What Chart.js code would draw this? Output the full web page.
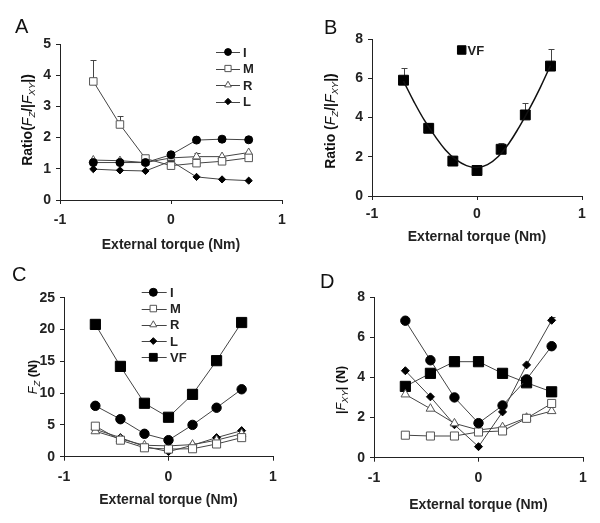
<!DOCTYPE html>
<html>
<head>
<meta charset="utf-8">
<script src="https://cdn.jsdelivr.net/npm/chart.js"></script>
<style>
body { margin: 0; background: #fff; }
#page { position: relative; width: 600px; height: 523px; overflow: hidden; font-family: "Liberation Sans", Arial, sans-serif; color: #111; }
canvas { position: absolute; }
.letter { position: absolute; font-size: 20px; line-height: 20px; }
.ytitle { position: absolute; font-size: 14px; font-weight: bold; white-space: nowrap; transform: translate(-50%, -50%) rotate(-90deg); }
.ytitle.small { font-size: 12.5px; }
.ytitle i { font-weight: normal; }
.ytitle sub { font-size: 9.5px; vertical-align: -3px; font-style: italic; font-weight: normal; }
</style>
</head>
<body>
<div id="page">
  <canvas id="chartA" width="300" height="260" style="left:0;top:0"></canvas>
  <canvas id="chartB" width="300" height="260" style="left:300px;top:0"></canvas>
  <canvas id="chartC" width="300" height="263" style="left:0;top:260px"></canvas>
  <canvas id="chartD" width="300" height="263" style="left:300px;top:260px"></canvas>

  <div class="letter" style="left:15px;top:16px">A</div>
  <div class="letter" style="left:324px;top:17px">B</div>
  <div class="letter" style="left:12px;top:264px">C</div>
  <div class="letter" style="left:320px;top:271px">D</div>

  <div class="ytitle" style="left:28px;top:120px">Ratio(<i>F</i><sub>Z</sub>/|<i>F</i><sub>XY</sub>|)</div>
  <div class="ytitle" style="left:331px;top:121px">Ratio (<i>F</i><sub>Z</sub>/|<i>F</i><sub>XY</sub>|)</div>
  <div class="ytitle small" style="left:34px;top:377px"><i>F</i><sub>Z</sub> (N)</div>
  <div class="ytitle small" style="left:342px;top:390px">|<i>F</i><sub>XY</sub>| (N)</div>
</div>
<script>
// external torque levels (Nm)
const torque = [-0.7, -0.46, -0.23, 0, 0.23, 0.46, 0.7];

// A - ratio Fz/|Fxy| per finger
const ratioI = [1.2, 1.2, 1.2, 1.45, 1.92, 1.95, 1.93];
const ratioM = [3.8, 2.42, 1.33, 1.1, 1.18, 1.24, 1.35];
const ratioR = [1.28, 1.26, 1.2, 1.35, 1.39, 1.39, 1.52];
const ratioL = [0.99, 0.95, 0.93, 1.25, 0.74, 0.66, 0.62];
const ratioErrM = [0.7, 0.28, 0, 0, 0, 0, 0];
const ratioErrR = [0, 0, 0, 0, 0.12, 0, 0];

// B - ratio for virtual finger, and the fitted curve
const ratioVF = [5.9, 3.45, 1.78, 1.3, 2.38, 4.13, 6.62];
const ratioErrVF = [0.6, 0.25, 0.1, 0.08, 0.3, 0.62, 0.88];
const fitX = [-0.7, -0.6, -0.5, -0.4, -0.3, -0.2, -0.1, 0, 0.1, 0.2, 0.3, 0.4, 0.5, 0.6, 0.7];
const fitY = [5.85, 4.8, 3.85, 3.05, 2.35, 1.85, 1.55, 1.45, 1.6, 2.0, 2.65, 3.5, 4.45, 5.5, 6.65];

// C - normal force Fz (N)
const fzI = [8.0, 5.9, 3.6, 2.6, 5.0, 7.7, 10.6];
const fzM = [4.8, 2.6, 1.4, 1.2, 1.25, 2.0, 3.0];
const fzR = [4.0, 2.8, 1.8, 1.7, 1.9, 2.6, 3.6];
const fzL = [4.3, 3.0, 1.6, 0.8, 1.8, 3.0, 4.1];
const fzVF = [20.8, 14.2, 8.4, 6.2, 9.8, 15.1, 21.1];

// D - tangential force |Fxy| (N)
const fxyI = [6.82, 4.85, 3.0, 1.72, 2.6, 3.9, 5.55];
const fxyM = [1.12, 1.08, 1.08, 1.28, 1.33, 1.96, 2.7];
const fxyR = [3.15, 2.44, 1.71, 1.38, 1.52, 1.99, 2.32];
const fxyL = [4.33, 3.03, 1.64, 0.55, 2.28, 4.62, 6.84];
const fxyVF = [3.55, 4.2, 4.78, 4.78, 4.2, 3.73, 3.28];
const fxyErrL = [0, 0, 0, 0, 0, 0, 0.15];

const xTicks = [-1, 0, 1];

const FONT = '"Liberation Sans", Arial, sans-serif';
const INK = '#222';

const markers = {
    I: { pointStyle: 'circle', fill: '#000', stroke: '#000' },
    M: { pointStyle: 'rect', fill: '#fff', stroke: '#555' },
    R: { pointStyle: 'triangle', fill: '#fff', stroke: '#555' },
    L: { pointStyle: 'rectRot', fill: '#000', stroke: '#000' },
    VF: { pointStyle: 'rect', fill: '#000', stroke: '#000' }
};

function series(key, ys, r, extra) {
    const m = markers[key];
    return Object.assign({
        label: key,
        data: torque.map((x, i) => ({ x: x, y: ys[i] })),
        showLine: true,
        borderColor: '#444',
        borderWidth: 1,
        pointStyle: m.pointStyle,
        pointRadius: r,
        pointHoverRadius: r,
        pointBackgroundColor: m.fill,
        pointBorderColor: m.stroke,
        pointBorderWidth: 1
    }, extra || {});
}

// draw a marker the same way as chart.js does
function drawMarker(ctx, style, x, y, r, fill, stroke) {
    ctx.save();
    ctx.fillStyle = fill;
    ctx.strokeStyle = stroke;
    ctx.lineWidth = 1;
    ctx.beginPath();
    if (style === 'circle') {
        ctx.arc(x, y, r, 0, Math.PI * 2);
    } else if (style === 'rect') {
        const s = r * Math.SQRT1_2;
        ctx.rect(x - s, y - s, 2 * s, 2 * s);
    } else if (style === 'triangle') {
        for (let k = 0; k < 3; k++) {
            const a = k * 2 * Math.PI / 3;
            const px = x + Math.sin(a) * r, py = y - Math.cos(a) * r;
            if (k === 0) ctx.moveTo(px, py); else ctx.lineTo(px, py);
        }
        ctx.closePath();
    } else if (style === 'rectRot') {
        ctx.moveTo(x, y - r); ctx.lineTo(x + r, y); ctx.lineTo(x, y + r); ctx.lineTo(x - r, y);
        ctx.closePath();
    }
    ctx.fill();
    ctx.stroke();
    ctx.restore();
}

// upward error bars
const errorBars = {
    id: 'errorBars',
    beforeDatasetsDraw(chart) {
        const ctx = chart.ctx;
        const xs = chart.scales.x, ys = chart.scales.y;
        chart.data.datasets.forEach(ds => {
            if (!ds.errUp) return;
            ctx.save();
            ctx.strokeStyle = '#444';
            ctx.lineWidth = 1;
            ds.data.forEach((p, j) => {
                const e = ds.errUp[j];
                if (!e) return;
                const x = Math.round(xs.getPixelForValue(p.x)) + 0.5;
                const y0 = ys.getPixelForValue(p.y);
                const y1 = Math.round(ys.getPixelForValue(p.y + e)) + 0.5;
                ctx.beginPath();
                ctx.moveTo(x, y0); ctx.lineTo(x, y1);
                ctx.moveTo(x - 3, y1); ctx.lineTo(x + 3, y1);
                ctx.stroke();
            });
            ctx.restore();
        });
    }
};

// legend with a short line through the marker
const lineLegend = {
    id: 'lineLegend',
    afterDraw(chart, args, opts) {
        if (!opts.items) return;
        const ctx = chart.ctx;
        opts.items.forEach((it, k) => {
            const y = opts.y + k * opts.dy;
            const m = markers[it.key];
            if (opts.line) {
                ctx.save();
                ctx.strokeStyle = '#444';
                ctx.lineWidth = 1;
                ctx.beginPath();
                ctx.moveTo(opts.line[0], Math.round(y) + 0.5);
                ctx.lineTo(opts.line[1], Math.round(y) + 0.5);
                ctx.stroke();
                ctx.restore();
            }
            drawMarker(ctx, m.pointStyle, opts.x, y, it.r, m.fill, m.stroke);
            ctx.save();
            ctx.fillStyle = INK;
            ctx.font = 'bold 13px ' + FONT;
            ctx.textBaseline = 'middle';
            ctx.fillText(it.key, opts.textX, y + 1);
            ctx.restore();
        });
    }
};

function makePanel(id, box, yMax, yStep, datasets, legend) {
    const H = box.height;
    const yWidth = 40;
    return new Chart(document.getElementById(id), {
        type: 'scatter',
        data: { datasets: datasets },
        plugins: [errorBars, lineLegend],
        options: {
            responsive: false,
            animation: false,
            events: [],
            layout: {
                padding: { left: box.left - yWidth, top: box.top, right: box.width - box.right, bottom: 0 }
            },
            plugins: {
                legend: { display: false },
                tooltip: { enabled: false },
                lineLegend: legend || {}
            },
            scales: {
                x: {
                    type: 'linear',
                    min: -1, max: 1,
                    afterFit: s => { s.height = H - box.bottom; },
                    afterBuildTicks: s => { s.ticks = xTicks.map(v => ({ value: v })); },
                    grid: { drawOnChartArea: false, drawTicks: true, tickLength: 4, color: INK },
                    border: { display: true, color: INK, width: 1 },
                    ticks: { color: INK, font: { family: FONT, size: 14, weight: 'bold' }, padding: box.tickPad, maxRotation: 0 },
                    title: {
                        display: true,
                        text: 'External torque (Nm)',
                        color: INK,
                        font: { family: FONT, size: 14, weight: 'bold' },
                        padding: { top: 0, bottom: H - box.titleY - 8.4 }
                    }
                },
                y: {
                    min: 0, max: yMax,
                    afterFit: s => { s.width = yWidth; },
                    grid: { drawOnChartArea: false, drawTicks: true, tickLength: 4, color: INK },
                    border: { display: true, color: INK, width: 1 },
                    ticks: { stepSize: yStep, color: INK, font: { family: FONT, size: 14, weight: 'bold' }, padding: 5 }
                }
            }
        }
    });
}

// A
makePanel('chartA',
    { width: 300, height: 260, left: 60, top: 44, right: 282, bottom: 200, tickPad: 8, titleY: 245 },
    5, 1,
    [
        series('I', ratioI, 4),
        series('M', ratioM, 5.3, { errUp: ratioErrM }),
        series('R', ratioR, 4.6, { errUp: ratioErrR }),
        series('L', ratioL, 3.6)
    ],
    { x: 228, y: 52, dy: 16.5, line: [216, 240], textX: 243,
      items: [{ key: 'I', r: 3.4 }, { key: 'M', r: 4.4 }, { key: 'R', r: 3.8 }, { key: 'L', r: 3.2 }] }
);

// B
makePanel('chartB',
    { width: 300, height: 260, left: 72, top: 39, right: 282, bottom: 196, tickPad: 5.5, titleY: 237 },
    8, 2,
    [
        {
            label: 'fit',
            data: fitX.map((x, i) => ({ x: x, y: fitY[i] })),
            showLine: true,
            borderColor: '#111',
            borderWidth: 1.5,
            tension: 0.4,
            pointRadius: 0
        },
        series('VF', ratioVF, 7, { showLine: false, errUp: ratioErrVF })
    ],
    { x: 161.7, y: 50, dy: 0, textX: 167.5, items: [{ key: 'VF', r: 6 }] }
);

// C
makePanel('chartC',
    { width: 300, height: 263, left: 64, top: 37.7, right: 273, bottom: 196.7, tickPad: 8, titleY: 240 },
    25, 5,
    [
        series('I', fzI, 4.7),
        series('M', fzM, 5.7),
        series('R', fzR, 5),
        series('L', fzL, 4),
        series('VF', fzVF, 7.2)
    ],
    { x: 153.3, y: 32.3, dy: 16.25, line: [141.7, 166.7], textX: 170,
      items: [{ key: 'I', r: 4 }, { key: 'M', r: 4.6 }, { key: 'R', r: 4 }, { key: 'L', r: 3.4 }, { key: 'VF', r: 5.5 }] }
);

// D
makePanel('chartD',
    { width: 300, height: 263, left: 74, top: 37, right: 283, bottom: 197.7, tickPad: 8.5, titleY: 245 },
    8, 2,
    [
        series('I', fxyI, 4.7),
        series('M', fxyM, 5.7),
        series('R', fxyR, 5),
        series('L', fxyL, 4, { errUp: fxyErrL }),
        series('VF', fxyVF, 7.2)
    ]
);
</script>
</body>
</html>
